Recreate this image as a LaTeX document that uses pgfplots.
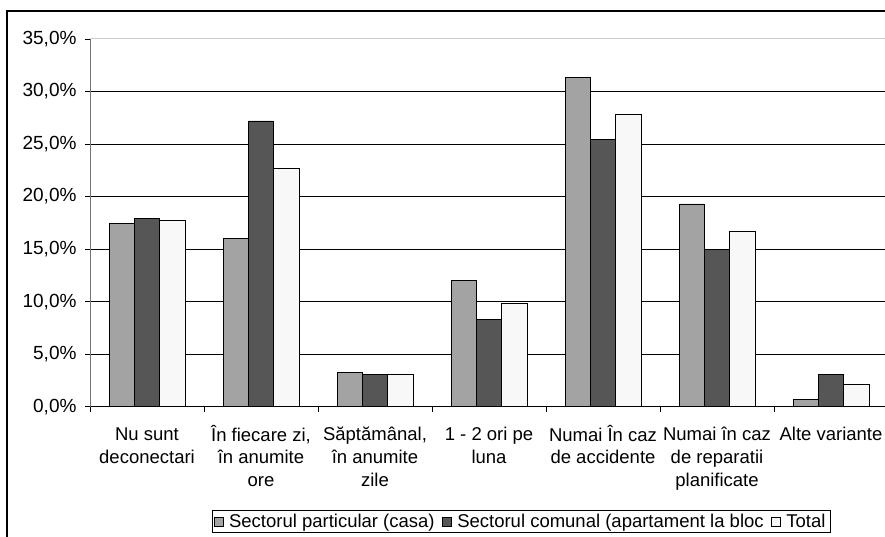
\documentclass[border=0pt]{standalone}
\usepackage{pgfplots}
\pgfplotsset{compat=1.18}
\usepackage{fontspec}
\setmainfont{Liberation Sans}
\definecolor{cgray}{HTML}{A3A3A3}
\definecolor{cdark}{HTML}{565656}
\definecolor{cwhite}{HTML}{F8F8F8}
\begin{document}
\begin{tikzpicture}[x=1pt,y=1pt,font=\fontsize{18.5}{22.7}\selectfont]
\path[use as bounding box] (0,0) rectangle (885,537);
\draw[line width=1.2pt] (7,526) rectangle (900,-20);
\begin{axis}[
  at={(90pt,130.3pt)}, anchor=south west,
  scale only axis, width=798pt, height=367.7pt,
  ybar=0pt, bar width=25.33pt,
  xmin=-0.5, xmax=6.5, ymin=0, ymax=35,
  enlargelimits=false,
  axis x line*=bottom, axis y line*=left,
  x axis line style={black, line width=0.9pt, -},
  y axis line style={black!55, line width=0.9pt, -},
  tick align=outside, major tick length=5pt,
  tick style={black, line width=0.9pt},
  xtick={-0.5,0.5,...,6.5}, xticklabels={},
  extra x ticks={0,1,2,3,4,5,6},
  extra x tick labels={{\strut Nu sunt\\deconectari},{\strut În fiecare zi,\\în anumite\\ore},{\strut Săptămânal,\\în anumite\\zile},{\strut 1 - 2 ori pe\\luna},{\strut Numai În caz\\de accidente},{\strut Numai în caz\\de reparatii\\planificate},{\strut Alte variante}},
  extra x tick style={major tick length=0pt, tick label style={align=center, anchor=north, inner sep=0pt, yshift=-18pt, font=\fontsize{18.5}{22.7}\selectfont}},
  ytick={0,5,...,30},
  /pgf/number format/assume math mode=true,
  yticklabel={\pgfmathprintnumber[fixed,fixed zerofill,precision=1,use comma]{\tick}\%},
  extra y ticks={35},
  extra y tick style={grid style={black!20, line width=1pt}},
  yticklabel style={font=\fontsize{19}{22.7}\selectfont, xshift=-5pt},
  ymajorgrids, grid style={black, line width=0.8pt},
  legend columns=3,
  legend style={at={(0.54,-0.3122)}, anchor=center, draw=black, line width=0.7pt,
    inner xsep=2pt, inner ysep=1pt,
    nodes={inner sep=2.5pt, font=\fontsize{18.5}{22.7}\selectfont},
    /tikz/every odd column/.append style={column sep=3pt},
    /tikz/every even column/.append style={column sep=5pt}},
  legend image code/.code={\draw[#1, line width=0.6pt] (0pt,-4.5pt) rectangle (9pt,4.5pt);},
]
\addplot[fill=cgray, draw=black, line width=0.8pt] coordinates {(0,17.4) (1,16.0) (2,3.3) (3,12.0) (4,31.3) (5,19.3) (6,0.7)};
\addplot[fill=cdark, draw=black, line width=0.8pt] coordinates {(0,17.9) (1,27.2) (2,3.1) (3,8.3) (4,25.4) (5,15.0) (6,3.1)};
\addplot[fill=cwhite, draw=black, line width=0.8pt] coordinates {(0,17.7) (1,22.7) (2,3.1) (3,9.8) (4,27.8) (5,16.7) (6,2.1)};
\legend{Sectorul particular (casa),Sectorul comunal (apartament la bloc,Total}
\end{axis}
\end{tikzpicture}
\end{document}
